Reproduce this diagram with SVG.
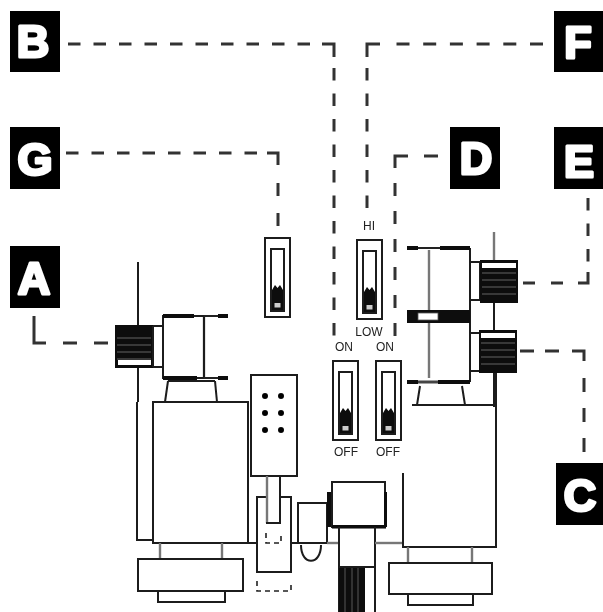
<svg xmlns="http://www.w3.org/2000/svg" width="603" height="612" viewBox="0 0 603 612">
<style>
.l{fill:none;stroke:#1a1a1a;stroke-width:2}
.t{fill:none;stroke:#777;stroke-width:2.400}
.b{fill:#0c0c0c;stroke:none}
.w{fill:#fff;stroke:#1a1a1a;stroke-width:2}
.c{fill:none;stroke:#333;stroke-width:3}
.d{fill:none;stroke:#333;stroke-width:3;stroke-dasharray:12.500 13}
.s{fill:none;stroke:#222;stroke-width:1.600;stroke-dasharray:5 4}
.k{fill:#050505}
.cap{font:12px "Liberation Sans",Arial,sans-serif;fill:#222;text-anchor:middle}
.let{font:700 45px "Liberation Sans",Arial,sans-serif;fill:#fff;stroke:#fff;stroke-width:3;stroke-linejoin:round;text-anchor:middle}
</style>
<defs>
<filter id="soft" x="-2%" y="-2%" width="104%" height="104%"><feGaussianBlur stdDeviation="0.7"/></filter>
<g id="sw">
<rect class="l" x="0" y="0" width="25" height="79"/>
<rect class="l" x="6" y="11" width="13" height="62"/>
<path class="b" d="M7 52L10 47L12.500 50L15 47L18 52V72H7Z"/>
<rect x="9.500" y="65" width="6" height="4.500" fill="#ccc"/>
</g>
<g id="knob">
<rect class="b" x="0" y="0" width="38" height="43"/>
<path d="M2 13H36M2 20H36M2 27H36M2 34H36" stroke="#666" stroke-width="1"/>
</g>
</defs>
<g filter="url(#soft)">
<g id="connectors">
<path class="d" d="M68 44H312"/>
<path class="c" d="M322 44H334V57"/>
<path class="d" d="M334 68V336"/>
<path class="d" style="stroke-dasharray:13 13.700" d="M543 44H396"/>
<path class="c" d="M380 44H367V57"/>
<path class="d" d="M367 68V208"/>
<path class="d" d="M66 153H258"/>
<path class="c" d="M267 153H278V165"/>
<path class="d" style="stroke-dasharray:13 17" d="M278 183V227"/>
<path class="c" d="M438 156H424M408 156H395V168"/>
<path class="d" style="stroke-dasharray:13 15" d="M395 183V336"/>
<path class="d" d="M588 198V262"/>
<path class="c" d="M588 272V283H578"/>
<path class="d" style="stroke-dasharray:12 16" d="M563 283H523"/>
<path class="d" style="stroke-dasharray:14 11" d="M520 351H560"/>
<path class="c" d="M572 351H584V361"/>
<path class="d" style="stroke-dasharray:14 16" d="M584 378V452"/>
<path class="c" d="M34 316V343H46"/>
<path class="d" style="stroke-dasharray:14 17" d="M63 343H108"/>
</g>
<g id="label-B"><rect class="k" x="10" y="11" width="50" height="61"/><text class="let" x="33" y="57">B</text></g>
<g id="label-F"><rect class="k" x="554" y="11" width="49" height="61"/><text class="let" x="578" y="58">F</text></g>
<g id="label-G"><rect class="k" x="10" y="127" width="50" height="62"/><text class="let" x="35" y="175">G</text></g>
<g id="label-D"><rect class="k" x="450" y="127" width="50" height="62"/><text class="let" x="476" y="174">D</text></g>
<g id="label-E"><rect class="k" x="554" y="127" width="49" height="62"/><text class="let" x="579" y="177">E</text></g>
<g id="label-A"><rect class="k" x="10" y="246" width="50" height="62"/><text class="let" x="34" y="294">A</text></g>
<g id="label-C"><rect class="k" x="556" y="463" width="47" height="62"/><text class="let" x="580" y="511">C</text></g>

<g id="switch-G"><use href="#sw" x="265" y="238"/></g>
<g id="switch-HI"><use href="#sw" x="357" y="240"/><text class="cap" x="369" y="230">HI</text><text class="cap" x="369" y="336">LOW</text></g>
<g id="switch-ON1"><use href="#sw" x="333" y="361"/><text class="cap" x="344" y="351">ON</text><text class="cap" x="346" y="456">OFF</text></g>
<g id="switch-ON2"><use href="#sw" x="376" y="361"/><text class="cap" x="385" y="351">ON</text><text class="cap" x="388" y="456">OFF</text></g>

<g id="valve-left">
<path class="l" d="M138 262V326M138 367V402M137 402V540H153"/>
<path class="t" d="M204 316V378"/>
<use href="#knob" x="115" y="325"/>
<rect x="118" y="360" width="33" height="5" fill="#fff"/>
<path class="l" d="M153 326H163M153 367H163M153 326V367"/>
<rect class="l" x="163" y="316" width="41" height="62" stroke-width="2.400"/>
<path d="M163 316H194M163 378H197" stroke="#0c0c0c" stroke-width="4"/>
<path d="M204 316H218M204 378H218" stroke="#222" stroke-width="2"/>
<path d="M218 316H228M218 378H228" stroke="#0c0c0c" stroke-width="4"/>
<path class="l" d="M165 402L168 381M217 402L215 381M168 381H215"/>
<rect class="w" x="153" y="402" width="95" height="141"/>
<path class="t" d="M160 543V559M222 543V559"/>
<rect class="w" x="138" y="559" width="105" height="32"/>
<rect class="w" x="158" y="591" width="67" height="11"/>
</g>

<g id="panel">
<rect class="w" x="251" y="375" width="46" height="101"/>
<g class="k"><circle cx="265" cy="396" r="3"/><circle cx="281" cy="396" r="3"/><circle cx="265" cy="413" r="3"/><circle cx="281" cy="413" r="3"/><circle cx="265" cy="430" r="3"/><circle cx="281" cy="430" r="3"/></g>
</g>

<g id="slider">
<path class="l" d="M248 543H257M291 543H298"/>
<path class="l" d="M266 497H257V572H291V497H281"/>
<path class="t" d="M267 476V523"/>
<path class="l" d="M280 476V523M266 523H281"/>
<path class="s" d="M266 533V543H281V533"/>
<path class="s" d="M257 581V591H291V581"/>
</g>

<g id="centre">
<rect class="l" x="298" y="503" width="29" height="40"/>
<path class="l" d="M301 545C301 566 321 566 321 545"/>
<path class="t" d="M327 543H339"/>
<rect class="b" x="327" y="492" width="6" height="35"/>
<rect class="w" x="332" y="482" width="53" height="45"/>
<rect class="b" x="332" y="525" width="54" height="3.500"/>
<path class="b" d="M384 492h3v35h-3z"/>
<path class="l" d="M339 527V612M375 527V612"/>
<rect class="b" x="339" y="567" width="26" height="45"/>
<path d="M345 567V612M352 567V612M358 567V612" stroke="#555" stroke-width="1"/>
<path class="l" d="M339 567H375"/>
<path class="t" d="M375 543H403"/>
</g>

<g id="valve-right">
<path class="l" d="M403 473V547H496V373"/>
<path class="t" d="M408 547V563M472 547V563"/>
<path class="t" d="M494 232V260"/>
<path class="l" d="M494 302V331M494 373V407"/>
<path class="l" d="M412 405H496M417 405L420 386M465 405L462 386"/>
<path class="t" d="M429 250V310M429 322V378"/>
<path class="l" d="M470 248V382" stroke-width="2.600"/>
<path d="M407 248H418M440 248H470" stroke="#0c0c0c" stroke-width="4"/>
<path d="M418 248H440" stroke="#222" stroke-width="2"/>
<path d="M407 382H418M438 382H470" stroke="#0c0c0c" stroke-width="4"/>
<path d="M418 382H438" stroke="#444" stroke-width="3"/>
<rect class="b" x="407" y="310" width="63" height="13"/>
<rect x="418" y="313" width="20" height="7" fill="#fff" stroke="#555" stroke-width="0.800"/>
<path class="l" d="M470 262H480V300H470M470 333H480V371H470"/>
<use href="#knob" x="480" y="260"/>
<rect x="482" y="263" width="34" height="5" fill="#fff"/>
<use href="#knob" x="479" y="330"/>
<rect x="481" y="333" width="34" height="5" fill="#fff"/>
<rect class="w" x="389" y="563" width="103" height="31"/>
<rect class="w" x="408" y="594" width="65" height="11"/>
</g>
</g>
</svg>
